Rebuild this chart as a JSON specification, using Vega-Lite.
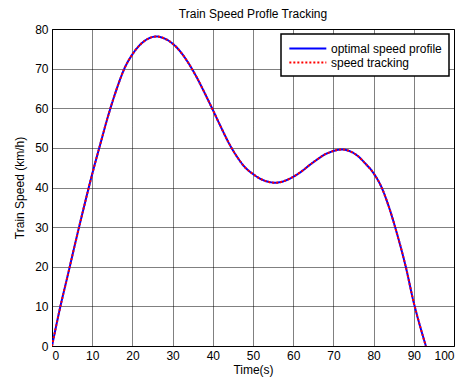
{
  "$schema": "https://vega.github.io/schema/vega-lite/v6.json",
  "width": 402,
  "height": 317,
  "autosize": {"type": "none"},
  "padding": {"left": 52, "top": 29, "right": 10, "bottom": 33},
  "background": "white",
  "title": {"text": "Train Speed Profle Tracking", "font": "Liberation Sans", "fontSize": 12, "fontWeight": "normal", "color": "#000", "offset": 2},
  "config": {
    "view": {"stroke": "#000", "strokeWidth": 1},
    "axis": {
      "labelFont": "Liberation Sans", "labelFontSize": 12, "labelColor": "#000",
      "titleFont": "Liberation Sans", "titleFontSize": 12, "titleFontWeight": "normal", "titleColor": "#000",
      "grid": true, "gridColor": "#000", "gridDash": [1, 1], "gridOpacity": 1, "gridWidth": 1,
      "domain": false, "ticks": false, "labelPadding": 4
    },
    "legend": {
      "labelFont": "Liberation Sans", "labelFontSize": 12, "labelColor": "#000"
    }
  },
  "data": {
    "values": [
      {"t": 0, "v": 0}, {"t": 2, "v": 9.6}, {"t": 4, "v": 18.2}, {"t": 6, "v": 26.9}, {"t": 8, "v": 35.3},
      {"t": 10, "v": 43.4}, {"t": 12, "v": 50.9}, {"t": 14, "v": 58.2}, {"t": 16, "v": 64.6}, {"t": 18, "v": 70},
      {"t": 20, "v": 73.6}, {"t": 22, "v": 76.1}, {"t": 24, "v": 77.6}, {"t": 26, "v": 78.1}, {"t": 28, "v": 77.6},
      {"t": 30, "v": 76.3}, {"t": 32, "v": 74.2}, {"t": 34, "v": 71.3}, {"t": 36, "v": 67.8}, {"t": 38, "v": 63.8},
      {"t": 40, "v": 59.6}, {"t": 42, "v": 55.3}, {"t": 44, "v": 51.2}, {"t": 46, "v": 47.8}, {"t": 48, "v": 45.1},
      {"t": 50, "v": 43.4}, {"t": 52, "v": 42.1}, {"t": 54, "v": 41.4}, {"t": 55.5, "v": 41.2}, {"t": 57, "v": 41.4},
      {"t": 60, "v": 42.7}, {"t": 62, "v": 44}, {"t": 64, "v": 45.6}, {"t": 66, "v": 47.1}, {"t": 68, "v": 48.4},
      {"t": 70, "v": 49.2}, {"t": 72, "v": 49.6}, {"t": 74, "v": 49.2}, {"t": 76, "v": 48}, {"t": 78, "v": 46},
      {"t": 80, "v": 43.6}, {"t": 82, "v": 40}, {"t": 84, "v": 34.5}, {"t": 86, "v": 27.7}, {"t": 88, "v": 20},
      {"t": 90, "v": 10.9}, {"t": 91.5, "v": 5.2}, {"t": 93, "v": 0}
    ]
  },
  "transform": [
    {"fold": ["optimal speed profile", "speed tracking"], "as": ["series", "dummy"]}
  ],
  "encoding": {
    "x": {"field": "t", "type": "quantitative", "scale": {"domain": [0, 100], "nice": false}, "axis": {"title": "Time(s)", "values": [0,10,20,30,40,50,60,70,80,90,100], "titlePadding": 3}},
    "y": {"field": "v", "type": "quantitative", "scale": {"domain": [0, 80], "nice": false}, "axis": {"title": "Train Speed (km/h)", "values": [0,10,20,30,40,50,60,70,80], "titlePadding": 8}},
    "color": {"field": "series", "type": "nominal", "scale": {"domain": ["optimal speed profile", "speed tracking"], "range": ["#0000ff", "#ff0000"]},
      "legend": {"title": null, "orient": "top-right", "offset": 5, "strokeColor": "#000", "fillColor": "white", "padding": 7, "symbolType": "M-1,0H5", "symbolSize": 152, "symbolStrokeWidth": 2, "labelOffset": 28, "rowPadding": 0, "cornerRadius": 0,
        "encode": {"legend": {"update": {"strokeWidth": {"value": 1.5}}}}}},
    "strokeDash": {"field": "series", "type": "nominal", "scale": {"domain": ["optimal speed profile", "speed tracking"], "range": [[1, 0], [2, 2]]}, "legend": {"title": null, "orient": "top-right", "offset": 5, "strokeColor": "#000", "fillColor": "white", "padding": 7, "symbolType": "M-1,0H5", "symbolSize": 152, "symbolStrokeWidth": 2, "labelOffset": 28, "rowPadding": 0,
        "encode": {"legend": {"update": {"strokeWidth": {"value": 1.5}}}}}}
  },
  "layer": [
    {"transform": [{"filter": "datum.series == 'optimal speed profile'"}], "mark": {"type": "line", "interpolate": "monotone", "strokeWidth": 2, "clip": true}},
    {"transform": [{"filter": "datum.series == 'speed tracking'"}], "mark": {"type": "line", "interpolate": "monotone", "strokeWidth": 2, "clip": true}}
  ]
}
